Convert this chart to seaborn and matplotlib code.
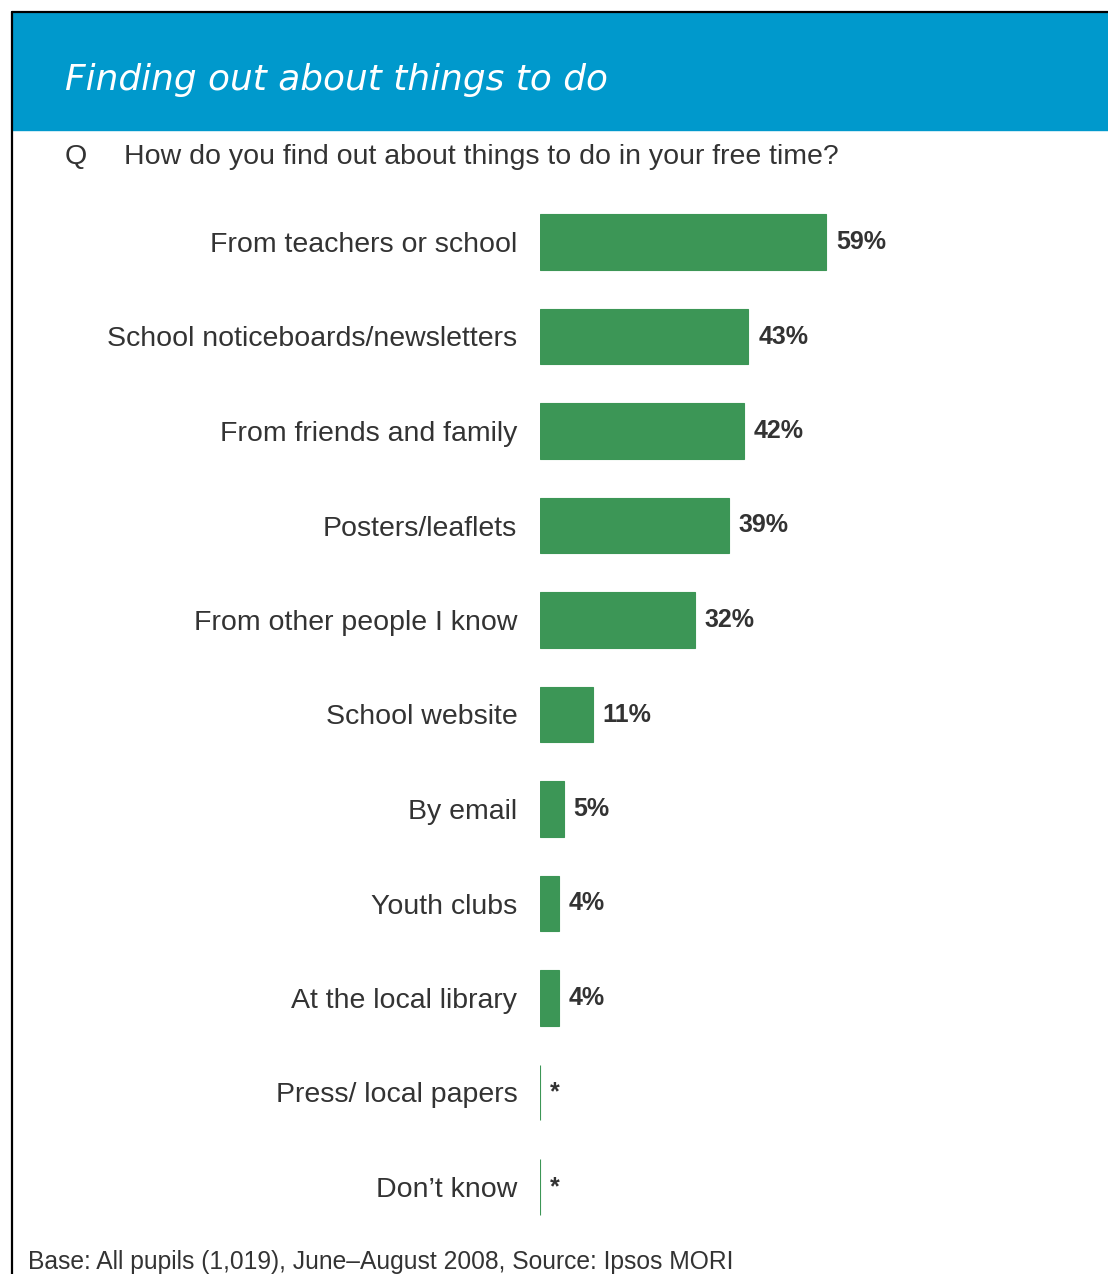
import pandas as pd
import matplotlib.pyplot as plt
import seaborn as sns
from matplotlib.patches import Rectangle
from matplotlib.lines import Line2D

# -------------------------
# DATA
# -------------------------
sources = [
    "From teachers or school",
    "School noticeboards/newsletters",
    "From friends and family",
    "Posters/leaflets",
    "From other people I know",
    "School website",
    "By email",
    "Youth clubs",
    "At the local library",
    "Press/ local papers",
    "Don\u2019t know",
]
percent = [59, 43, 42, 39, 32, 11, 5, 4, 4, 0.2, 0.2]
value_labels = ["59%", "43%", "42%", "39%", "32%", "11%", "5%", "4%", "4%", "*", "*"]

title = "Finding out about things to do"
question = "How do you find out about things to do in your free time?"
footer = "Base: All pupils (1,019), June\u2013August 2008, Source: Ipsos MORI"

GREEN = "#3c9656"
BLUE = "#0099cc"
TEXT = "#333333"

W, H = 1108, 1274

sns.set_style("white")
plt.rcParams["font.family"] = ["Liberation Sans", "DejaVu Sans"]

fig = plt.figure(figsize=(W / 100, H / 100), dpi=100)

# -------------------------
# HEADER / FRAME
# -------------------------
fig.patches.append(Rectangle((12 / W, 1 - 130 / H), 1 - 12 / W, (130 - 12) / H,
                             transform=fig.transFigure, color=BLUE, zorder=0))
fig.add_artist(Line2D([12 / W, 12 / W], [0, 1 - 12 / H], color="black", lw=1.6,
                      transform=fig.transFigure))
fig.add_artist(Line2D([12 / W, 1], [1 - 12 / H, 1 - 12 / H], color="black", lw=1.6,
                      transform=fig.transFigure))

fig.text(65 / W, 1 - 80 / H, title, color="white", fontsize=25.8, style="italic",
         family="DejaVu Sans", va="center", ha="left")
fig.text(65 / W, 1 - 157 / H, "Q", color=TEXT, fontsize=20.5, va="center", ha="left")
fig.text(124 / W, 1 - 157 / H, question, color=TEXT, fontsize=20.5, va="center", ha="left")
fig.text(28 / W, 1 - 1262 / H, footer, color=TEXT, fontsize=17.7, va="center", ha="left")

# -------------------------
# BARS
# -------------------------
df = pd.DataFrame({"source": sources, "percent": percent})

top_px, bot_px = 242 - 47.25, 1187 + 47.25
ax = fig.add_axes([539.5 / W, 1 - bot_px / H, (W - 539.5) / W, (bot_px - top_px) / H])
ax.patch.set_alpha(0)

sns.barplot(data=df, x="percent", y="source", orient="h", color=GREEN,
            saturation=1, width=0.59, edgecolor=GREEN, linewidth=0.8, ax=ax)

ax.set_xlim(0, (W - 539.5) / 4.86)
ax.set_ylim(len(sources) - 0.5, -0.5)
ax.set_xlabel("")
ax.set_ylabel("")
ax.set_xticks([])
ax.tick_params(axis="y", length=0, pad=16, labelsize=20.5, labelcolor=TEXT)
for s in ax.spines.values():
    s.set_visible(False)

ax.bar_label(ax.containers[0], labels=value_labels, padding=7,
             fontsize=18, fontweight="bold", color=TEXT)

fig.savefig("out.png", dpi=100)
